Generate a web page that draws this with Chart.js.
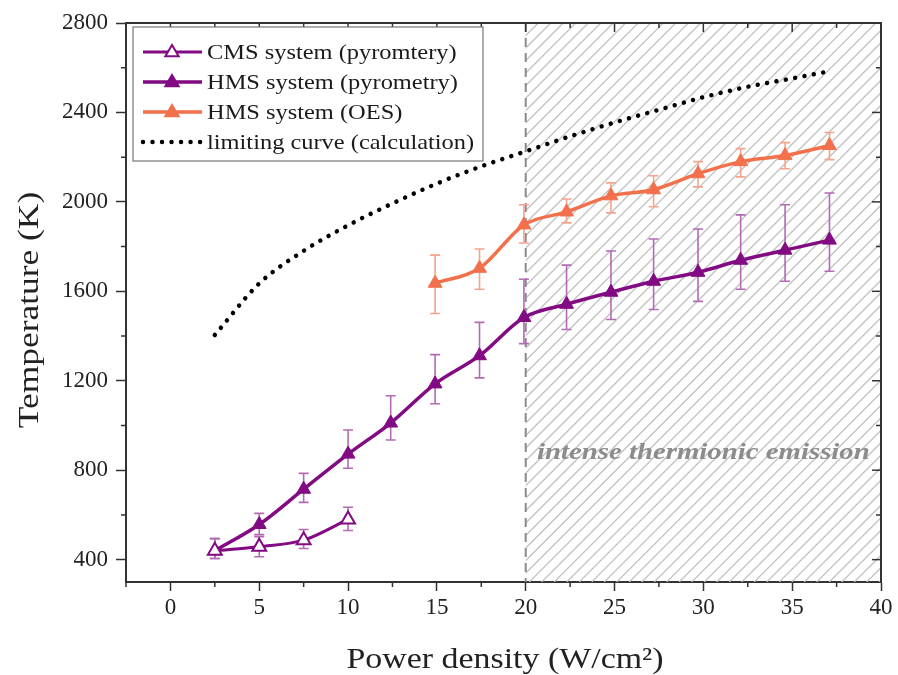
<!DOCTYPE html>
<html>
<head>
<meta charset="utf-8">
<script src="https://cdn.jsdelivr.net/npm/chart.js@4.4.1/dist/chart.umd.min.js"></script>
<style>html,body{margin:0;padding:0;background:#fff}</style>
</head>
<body>
<canvas id="chart" width="898" height="675"></canvas>
<script>
// data
var cmsX = [2.5, 5, 7.5, 10];
var cmsT = [440, 458, 487, 580];
var cmsLow = [405, 413, 450, 530];
var cmsHigh = [494, 503, 535, 634];

var hmsX = [2.5, 5, 7.5, 10, 12.4, 14.9, 17.4, 19.9, 22.3, 24.8, 27.2, 29.7, 32.1, 34.6, 37.1];
var hmsT = [440, 557, 715, 872, 1011, 1186, 1312, 1483, 1542, 1596, 1645, 1685, 1739, 1784, 1829];
var hmsLow = [405, 512, 656, 809, 935, 1097, 1213, 1366, 1429, 1474, 1519, 1555, 1609, 1645, 1690];
var hmsHigh = [494, 607, 786, 980, 1133, 1317, 1461, 1654, 1717, 1780, 1834, 1879, 1942, 1987, 2040];

var oesX = [14.9, 17.4, 19.9, 22.3, 24.8, 27.2, 29.7, 32.1, 34.6, 37.1];
var oesT = [1636, 1703, 1897, 1955, 2027, 2054, 2126, 2180, 2207, 2252];
var oesLow = [1501, 1609, 1816, 1906, 1951, 1978, 2067, 2112, 2148, 2189];
var oesHigh = [1762, 1789, 1987, 2013, 2085, 2117, 2180, 2238, 2265, 2310];

var limX = [2.5, 5, 7.5, 10, 12.5, 15, 17.5, 20, 22.5, 25, 27.5, 30, 32.5, 35, 37];
var limT = [1405, 1635, 1781, 1895, 1993, 2082, 2159, 2226, 2293, 2355, 2412, 2468, 2515, 2552, 2583];

var xMajor = [0, 5, 10, 15, 20, 25, 30, 35, 40];
var yMajor = [400, 800, 1200, 1600, 2000, 2400, 2800];
var emissionStart = 20;

var purple = '#820a82';
var purpleBar = '#b46ab4';
var orange = '#f2704c';
var orangeBar = '#f6a48c';
var serif = "'Liberation Serif', 'DejaVu Serif', serif";

function pts(xs, ys) {
  return xs.map(function (x, i) { return { x: x, y: ys[i] }; });
}

var errSets = [
  { xs: cmsX, lo: cmsLow, hi: cmsHigh, color: purpleBar },
  { xs: hmsX, lo: hmsLow, hi: hmsHigh, color: purpleBar },
  { xs: oesX, lo: oesLow, hi: oesHigh, color: orangeBar }
];

// text a bit wider than the font, like the original figure
function wideText(ctx, text, x, y, sx) {
  ctx.save();
  ctx.translate(x, y);
  ctx.scale(sx, 1);
  ctx.fillText(text, 0, 0);
  ctx.restore();
}

var decor = {
  id: 'decor',
  beforeDatasetsDraw: function (chart) {
    var ctx = chart.ctx, a = chart.chartArea;
    var xs = chart.scales.x, ys = chart.scales.y;
    var x20 = xs.getPixelForValue(emissionStart);
    // hatched region
    ctx.save();
    ctx.beginPath();
    ctx.rect(x20, a.top, a.right - x20, a.bottom - a.top);
    ctx.clip();
    ctx.strokeStyle = '#c4c4c4';
    ctx.lineWidth = 1.3;
    var h = a.bottom - a.top;
    for (var s = x20 - h; s < a.right + 10; s += 12.5) {
      ctx.beginPath();
      ctx.moveTo(s, a.bottom);
      ctx.lineTo(s + h, a.top);
      ctx.stroke();
    }
    ctx.restore();
    // dashed boundary
    ctx.save();
    ctx.strokeStyle = '#8a8a8a';
    ctx.lineWidth = 2;
    ctx.setLineDash([9, 6]);
    ctx.beginPath();
    ctx.moveTo(x20, a.top);
    ctx.lineTo(x20, a.bottom);
    ctx.stroke();
    ctx.restore();
    // label
    ctx.save();
    ctx.fillStyle = '#8c8c8c';
    ctx.font = 'italic bold 24px ' + serif;
    ctx.textAlign = 'center';
    ctx.textBaseline = 'middle';
    wideText(ctx, 'intense thermionic emission', xs.getPixelForValue(30), ys.getPixelForValue(880), 1.2);
    ctx.restore();
    // error bars
    ctx.save();
    ctx.lineWidth = 1.6;
    errSets.forEach(function (e) {
      ctx.strokeStyle = e.color;
      e.xs.forEach(function (x, i) {
        var px = xs.getPixelForValue(x);
        var p1 = ys.getPixelForValue(e.lo[i]);
        var p2 = ys.getPixelForValue(e.hi[i]);
        ctx.beginPath();
        ctx.moveTo(px, p1); ctx.lineTo(px, p2);
        ctx.moveTo(px - 5, p1); ctx.lineTo(px + 5, p1);
        ctx.moveTo(px - 5, p2); ctx.lineTo(px + 5, p2);
        ctx.stroke();
      });
    });
    ctx.restore();
  },
  afterDraw: function (chart) {
    var ctx = chart.ctx, a = chart.chartArea;
    var xs = chart.scales.x, ys = chart.scales.y;
    ctx.save();
    ctx.strokeStyle = '#333';
    ctx.lineWidth = 2;
    // top and right frame
    ctx.beginPath();
    ctx.moveTo(a.left - 1, a.top); ctx.lineTo(a.right, a.top); ctx.lineTo(a.right, a.bottom + 1);
    ctx.stroke();
    ctx.lineWidth = 1.5;
    var v, p, len;
    for (v = -2.5; v <= 40; v += 2.5) {
      p = xs.getPixelForValue(v);
      var major = v % 5 === 0;
      len = major ? 9 : 5;
      ctx.beginPath();
      if (!major) { ctx.moveTo(p, a.bottom); ctx.lineTo(p, a.bottom + 5); }
      ctx.moveTo(p, a.top); ctx.lineTo(p, a.top + len);
      ctx.stroke();
    }
    for (v = 400; v <= 2800; v += 200) {
      p = ys.getPixelForValue(v);
      var maj = v % 400 === 0;
      len = maj ? 9 : 5;
      ctx.beginPath();
      if (!maj) { ctx.moveTo(a.left, p); ctx.lineTo(a.left - 5, p); }
      ctx.moveTo(a.right, p); ctx.lineTo(a.right - len, p);
      ctx.stroke();
    }
    ctx.restore();
    // axis titles
    ctx.save();
    ctx.fillStyle = '#222';
    ctx.font = '30px ' + serif;
    ctx.textAlign = 'center';
    ctx.textBaseline = 'middle';
    wideText(ctx, 'Power density (W/cm²)', 505, 660, 1.13);
    ctx.save();
    ctx.translate(30, 310);
    ctx.rotate(-Math.PI / 2);
    ctx.scale(1.18, 1);
    ctx.fillText('Temperature (K)', 0, 0);
    ctx.restore();
    ctx.restore();
    // legend
    var lx = a.left + 7, ly = a.top + 4, lw = 350, lh = 134;
    ctx.save();
    ctx.fillStyle = '#fff';
    ctx.fillRect(lx, ly, lw, lh);
    ctx.strokeStyle = '#777';
    ctx.lineWidth = 1.2;
    ctx.strokeRect(lx, ly, lw, lh);
    var items = chart.data.datasets;
    ctx.font = '22px ' + serif;
    ctx.textBaseline = 'middle';
    items.forEach(function (d, i) {
      var cy = ly + 25 + i * 30;
      ctx.strokeStyle = d.borderColor;
      ctx.lineWidth = d.borderWidth;
      if (d.borderDash) {
        ctx.setLineDash(d.borderDash);
        ctx.lineCap = 'round';
      }
      ctx.beginPath();
      ctx.moveTo(lx + 10, cy); ctx.lineTo(lx + 69, cy);
      ctx.stroke();
      ctx.setLineDash([]);
      ctx.lineCap = 'butt';
      if (d.pointRadius > 0) {
        ctx.fillStyle = d.pointBackgroundColor;
        ctx.strokeStyle = d.borderColor;
        ctx.lineWidth = 2;
        ctx.beginPath();
        var r = 7;
        ctx.moveTo(lx + 39, cy - r);
        ctx.lineTo(lx + 39 + r * 0.95, cy + r * 0.6);
        ctx.lineTo(lx + 39 - r * 0.95, cy + r * 0.6);
        ctx.closePath();
        ctx.fill();
        ctx.stroke();
      }
      ctx.fillStyle = '#1a1a1a';
      wideText(ctx, d.label, lx + 74, cy + 1, 1.11);
    });
    ctx.restore();
  }
};

var ctx = document.getElementById('chart').getContext('2d');
var myChart = new Chart(ctx, {
  type: 'line',
  data: {
    datasets: [
      {
        label: 'CMS system (pyromtery)',
        data: pts(cmsX, cmsT),
        borderColor: purple,
        borderWidth: 3,
        pointStyle: 'triangle',
        pointRadius: 8,
        pointBorderWidth: 2,
        pointBackgroundColor: '#fff',
        pointBorderColor: purple,
        cubicInterpolationMode: 'monotone'
      },
      {
        label: 'HMS system (pyrometry)',
        data: pts(hmsX, hmsT),
        borderColor: purple,
        borderWidth: 3.5,
        pointStyle: 'triangle',
        pointRadius: 8,
        pointBorderWidth: 1,
        pointBackgroundColor: purple,
        pointBorderColor: purple,
        cubicInterpolationMode: 'monotone'
      },
      {
        label: 'HMS system (OES)',
        data: pts(oesX, oesT),
        borderColor: orange,
        borderWidth: 3.5,
        pointStyle: 'triangle',
        pointRadius: 8,
        pointBorderWidth: 1,
        pointBackgroundColor: orange,
        pointBorderColor: orange,
        cubicInterpolationMode: 'monotone'
      },
      {
        label: 'limiting curve (calculation)',
        data: pts(limX, limT),
        borderColor: '#000',
        borderWidth: 4.5,
        borderDash: [0.01, 9.5],
        borderCapStyle: 'round',
        pointRadius: 0,
        pointBackgroundColor: '#000',
        cubicInterpolationMode: 'monotone'
      }
    ]
  },
  options: {
    responsive: false,
    animation: false,
    layout: { padding: { top: 23, right: 17, left: 0, bottom: 0 } },
    plugins: {
      legend: { display: false },
      tooltip: { enabled: false }
    },
    scales: {
      x: {
        type: 'linear',
        min: -2.5,
        max: 40,
        afterBuildTicks: function (s) { s.ticks = xMajor.map(function (v) { return { value: v }; }); },
        afterFit: function (s) { s.height = 93; },
        grid: { drawOnChartArea: false, tickLength: 9, tickColor: '#333', tickWidth: 1.5 },
        border: { color: '#333', width: 2 },
        ticks: { color: '#222', font: { family: serif, size: 23 }, padding: 3, maxRotation: 0 }
      },
      y: {
        min: 300,
        max: 2800,
        afterBuildTicks: function (s) { s.ticks = yMajor.map(function (v) { return { value: v }; }); },
        afterFit: function (s) { s.width = 126; },
        grid: { drawOnChartArea: false, tickLength: 10, tickColor: '#333', tickWidth: 1.5 },
        border: { color: '#333', width: 2 },
        ticks: {
          color: '#222',
          font: { family: serif, size: 23 },
          padding: 8,
          callback: function (v) { return String(v); }
        }
      }
    }
  },
  plugins: [decor]
});
</script>
</body>
</html>
